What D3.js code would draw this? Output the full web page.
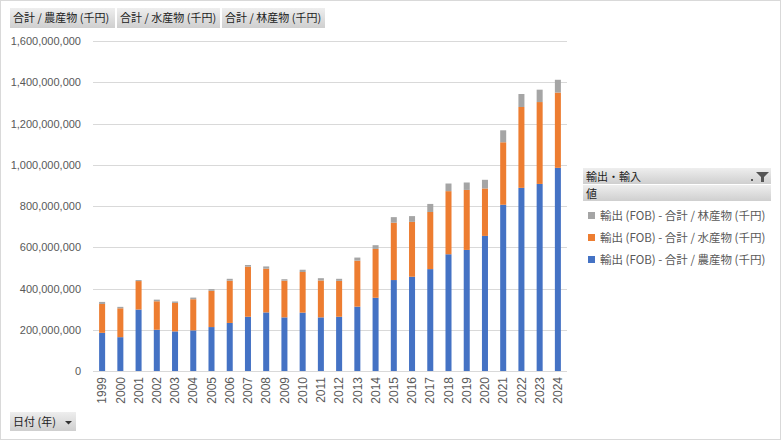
<!DOCTYPE html>
<html>
<head>
<meta charset="utf-8">
<script src="https://cdn.jsdelivr.net/npm/d3@7"></script>
<style>
  body { margin: 0; background: #fff; }
  svg { display: block; }
  text { font-family: "Liberation Sans", Arial, "Noto Sans CJK JP", sans-serif; }
  .jp { font-family: "Noto Sans CJK JP", "Liberation Sans", sans-serif; }
</style>
</head>
<body>
<svg id="chart" width="781" height="440"></svg>
<script>
// 年 (日付)
const years = ["1999","2000","2001","2002","2003","2004","2005","2006","2007","2008","2009","2010","2011","2012",
  "2013","2014","2015","2016","2017","2018","2019","2020","2021","2022","2023","2024"];

// values in millions of 千円
const agri_values = [185,164,298,200,192,197,213,233,263,284,260,283,260,263,312,355,441,457,494,566,587,655,806,888,907,985];
const fish_values = [140,140,138,138,138,151,176,205,243,212,178,197,179,174,223,237,278,266,277,306,291,230,303,392,397,365];
const forest_values = [10,7,5,8,7,8,8,9,8,11,7,11,11,10,15,18,27,28,39,37,36,42,58,63,60,62];

const series_names = [
  "輸出 (FOB) - 合計 / 農産物 (千円)",
  "輸出 (FOB) - 合計 / 水産物 (千円)",
  "輸出 (FOB) - 合計 / 林産物 (千円)",
];
const field_buttons = ["合計 / 農産物 (千円)", "合計 / 水産物 (千円)", "合計 / 林産物 (千円)"];
const y_ticks = [0, 200e6, 400e6, 600e6, 800e6, 1000e6, 1200e6, 1400e6, 1600e6];

const series_colors = ["#4472C4", "#ED7D31", "#A5A5A5"];
const label_color = "#595959";
const grid_color = "#d9d9d9";

const plot_left = 93;
const plot_right = 567;
const plot_top = 41;
const plot_bottom = 371;

const rows = years.map((y, i) => ({
  year: y,
  agri: agri_values[i] * 1e6,
  fish: fish_values[i] * 1e6,
  forest: forest_values[i] * 1e6,
}));

const svg = d3.select("#chart");

const defs = svg.append("defs");
const grad = defs.append("linearGradient").attr("id", "btn").attr("x1", 0).attr("y1", 0).attr("x2", 0).attr("y2", 1);
grad.append("stop").attr("offset", "0%").attr("stop-color", "#eeeeee");
grad.append("stop").attr("offset", "100%").attr("stop-color", "#cfcfcf");

// chart frame
svg.append("rect")
  .attr("x", 0.5).attr("y", 0.5)
  .attr("width", 780).attr("height", 439)
  .attr("fill", "#fff")
  .attr("stroke", grid_color);

const x = d3.scaleBand()
  .domain(years)
  .range([plot_left, plot_right])
  .paddingInner(0.67)
  .paddingOuter(0.335);

const y = d3.scaleLinear()
  .domain([0, 1600e6])
  .range([plot_bottom, plot_top]);

// gridlines
svg.append("g")
  .selectAll("line")
  .data(y_ticks)
  .join("line")
  .attr("x1", plot_left)
  .attr("x2", plot_right)
  .attr("y1", (d) => Math.round(y(d)) + 0.5)
  .attr("y2", (d) => Math.round(y(d)) + 0.5)
  .attr("stroke", grid_color)
  .attr("stroke-width", 1);

// y axis labels
const y_axis = svg.append("g")
  .attr("transform", `translate(${plot_left - 12},0)`)
  .call(d3.axisLeft(y).tickValues(y_ticks).tickSize(0).tickPadding(0).tickFormat(d3.format(",")));
y_axis.select(".domain").remove();
y_axis.selectAll("text")
  .attr("fill", label_color)
  .style("font-size", "11px")
  .style("font-family", "'Liberation Sans', Arial, sans-serif");

// stacked bars
const stack = d3.stack().keys(["agri", "fish", "forest"]);
const layers = stack(rows);

svg.append("g")
  .selectAll("g")
  .data(layers)
  .join("g")
  .attr("fill", (d, i) => series_colors[i])
  .selectAll("rect")
  .data((d) => d.map((v) => ({ v, year: v.data.year })))
  .join("rect")
  .attr("x", (d) => x(d.year))
  .attr("width", x.bandwidth())
  .attr("y", (d) => y(d.v[1]))
  .attr("height", (d) => y(d.v[0]) - y(d.v[1]));

// x axis labels
const x_axis = svg.append("g")
  .attr("transform", `translate(0,${plot_bottom + 6})`)
  .call(d3.axisBottom(x).tickSize(0).tickPadding(0));
x_axis.select(".domain").remove();
x_axis.selectAll("text")
  .attr("fill", label_color)
  .style("font-size", "12px")
  .attr("text-anchor", "end")
  .attr("dy", "0.35em")
  .attr("transform", "rotate(-90)");

// field buttons on top
const button_widths = [105, 103, 103];
let bx = 10;
field_buttons.forEach((label, i) => {
  const g = svg.append("g").attr("transform", `translate(${bx},8)`);
  g.append("rect").attr("width", button_widths[i]).attr("height", 20).attr("fill", "url(#btn)");
  g.append("text")
    .attr("class", "jp")
    .attr("x", 3).attr("y", 14)
    .attr("fill", "#222")
    .style("font-size", "11px")
    .text(label);
  bx += button_widths[i] + 2;
});

// date button bottom
const date_btn = svg.append("g").attr("transform", "translate(10,412)");
date_btn.append("rect").attr("width", 66).attr("height", 19).attr("fill", "url(#btn)");
date_btn.append("text")
  .attr("class", "jp")
  .attr("x", 3).attr("y", 14)
  .attr("fill", "#222")
  .style("font-size", "11px")
  .text("日付 (年)");
date_btn.append("path").attr("d", "M55,9 L62,9 L58.5,12.5 Z").attr("fill", "#333");

// legend
const legend = svg.append("g").attr("transform", "translate(583,168)");
legend.append("rect").attr("width", 188).attr("height", 16).attr("fill", "url(#btn)");
legend.append("text")
  .attr("class", "jp").attr("x", 3).attr("y", 12.5)
  .attr("fill", "#222").style("font-size", "11px")
  .text("輸出・輸入");
legend.append("path").attr("d", "M173,4 L186,4 L181,9 L181,14 L178,14 L178,9 Z").attr("fill", "#555");
legend.append("rect").attr("x", 168).attr("y", 11).attr("width", 2).attr("height", 2).attr("fill", "#555");
legend.append("rect").attr("y", 17).attr("width", 188).attr("height", 16).attr("fill", "url(#btn)");
legend.append("text")
  .attr("class", "jp").attr("x", 3).attr("y", 29.5)
  .attr("fill", "#222").style("font-size", "11px")
  .text("値");

const legend_items = [2, 1, 0];
legend_items.forEach((si, k) => {
  const ly = 48 + k * 22;
  legend.append("rect")
    .attr("x", 5).attr("y", ly - 4)
    .attr("width", 7).attr("height", 7)
    .attr("fill", series_colors[si]);
  legend.append("text")
    .attr("class", "jp")
    .attr("x", 17).attr("y", ly + 4)
    .attr("fill", label_color)
    .style("font-size", "11.5px")
    .text(series_names[si]);
});
</script>
</body>
</html>
